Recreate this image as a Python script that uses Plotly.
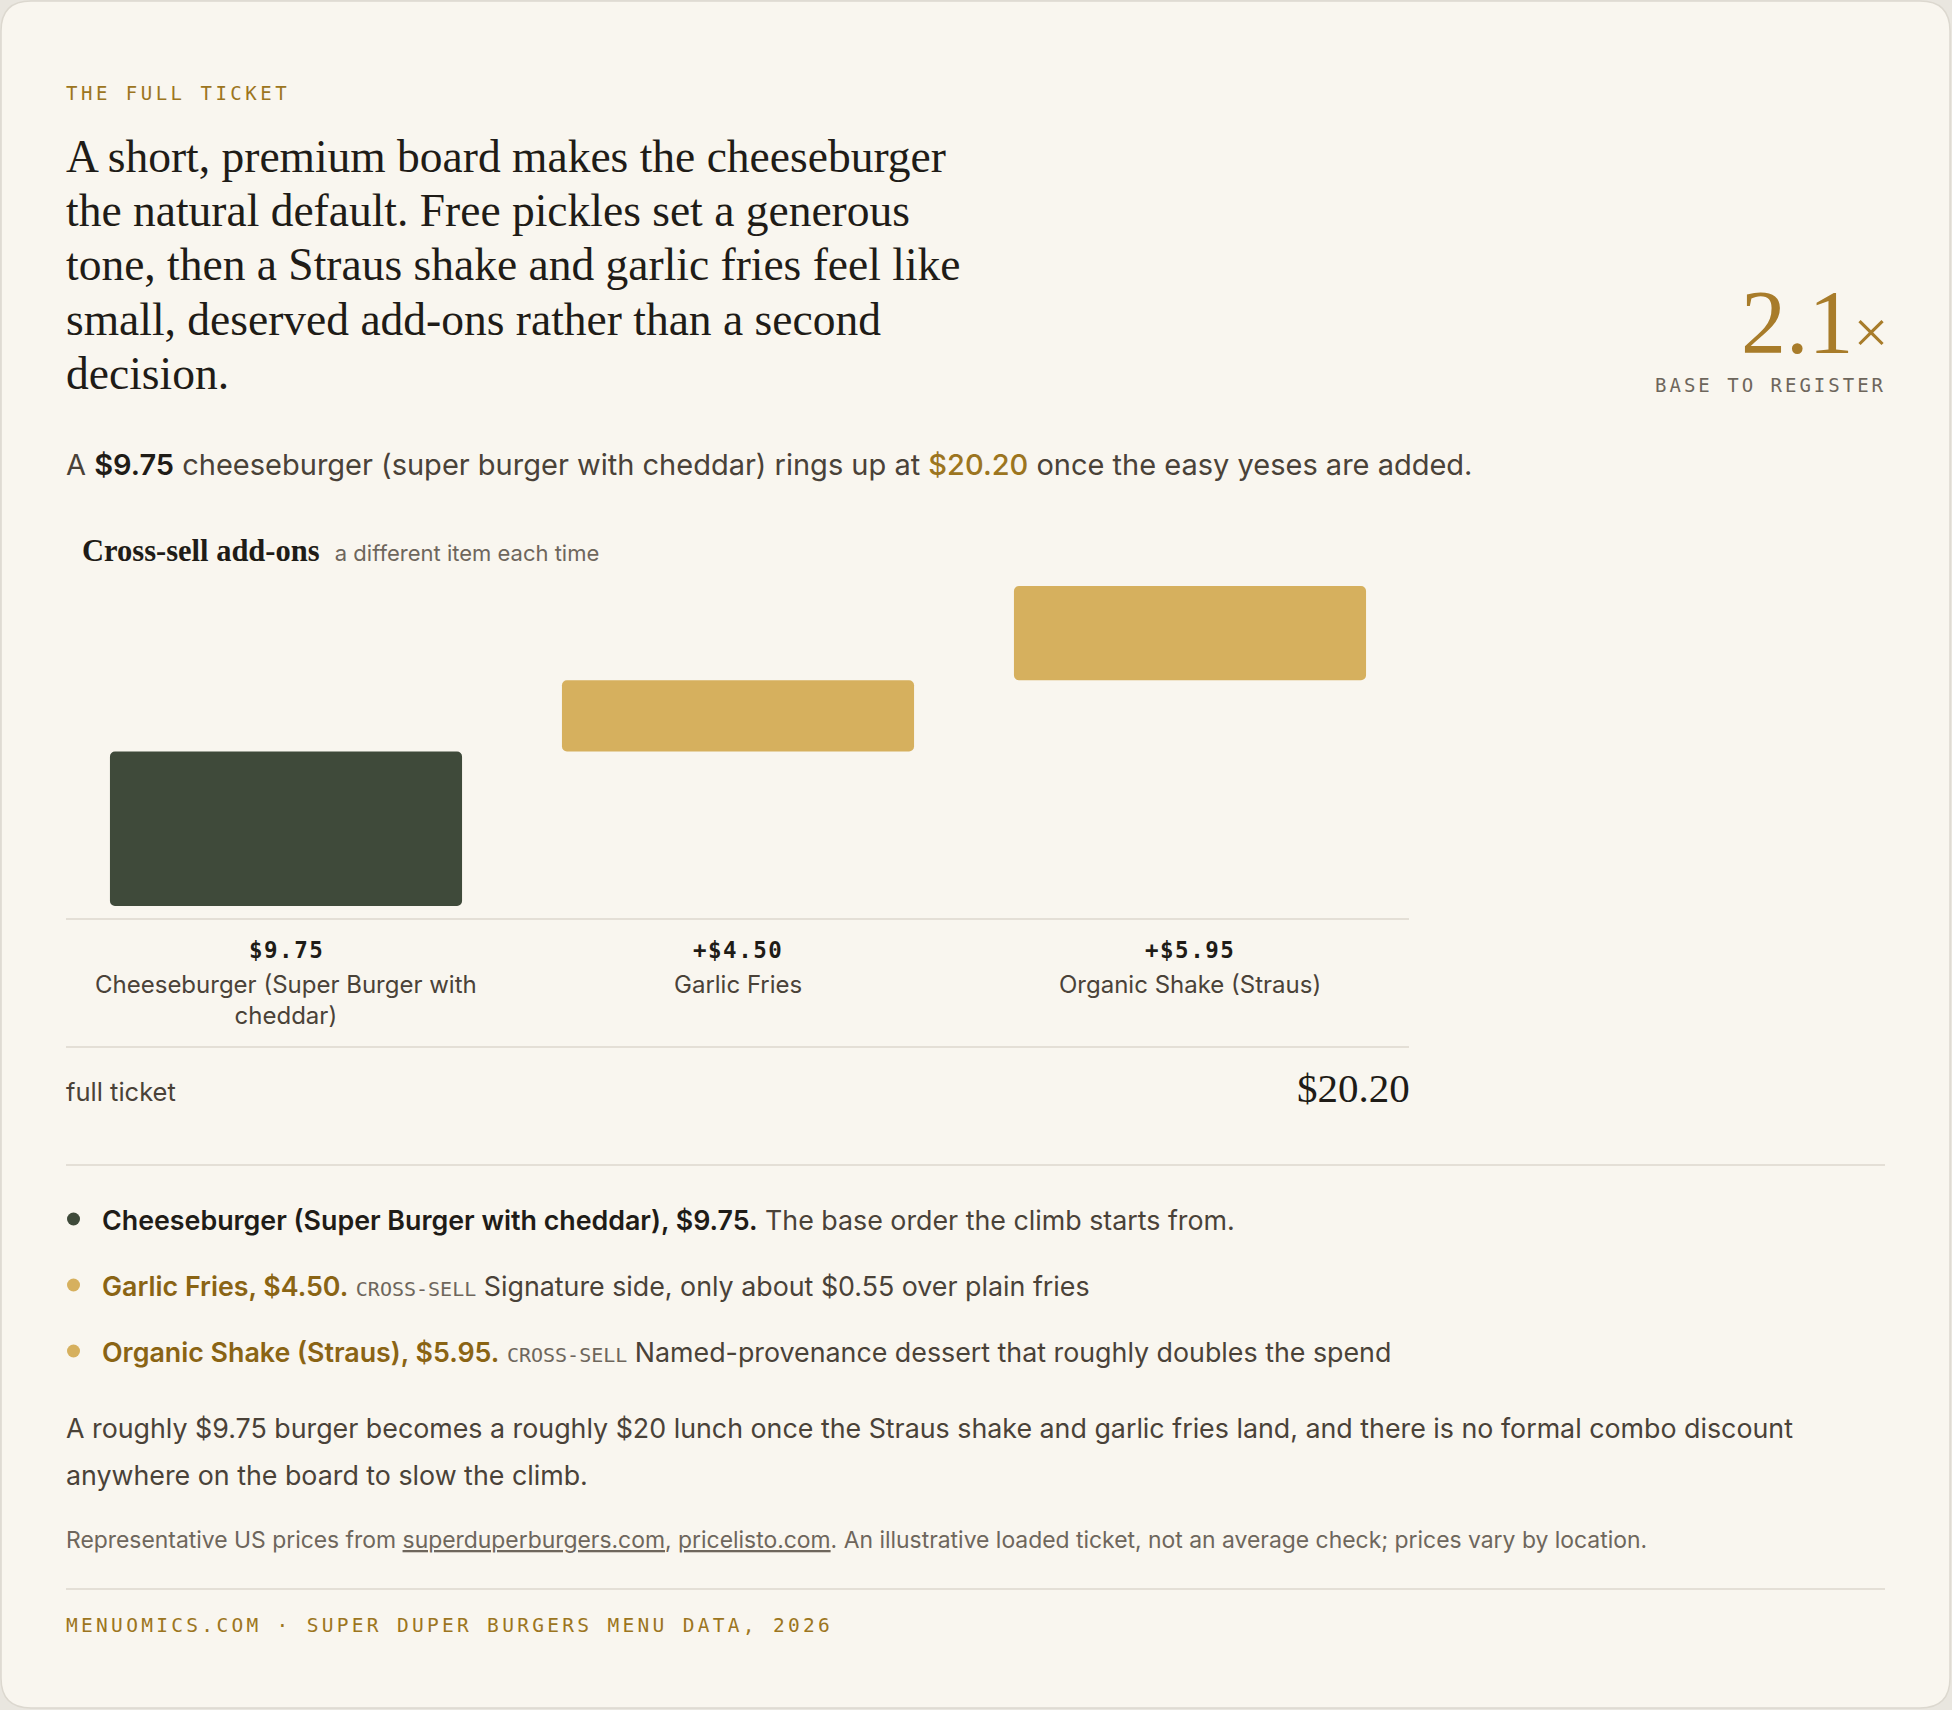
import numpy as np
import plotly.graph_objects as go

# canvas size (the page is photographed at this size)
W, H = 1952, 1710

# data
items = ["Cheeseburger (Super Burger with cheddar)", "Garlic Fries", "Organic Shake (Straus)"]
tick_names = ["Cheeseburger (Super Burger with<br>cheddar)", "Garlic Fries", "Organic Shake (Straus)"]
prices = [9.75, 4.50, 5.95]
roles = ["base", "cross-sell", "cross-sell"]
notes = ["The base order the climb starts from.",
         "Signature side, only about $0.55 over plain fries",
         "Named-provenance dessert that roughly doubles the spend"]
headline = ["A short, premium board makes the cheeseburger",
            "the natural default. Free pickles set a generous",
            "tone, then a Straus shake and garlic fries feel like",
            "small, deserved add-ons rather than a second",
            "decision."]

prices = np.array(prices)
bases = np.concatenate([[0], np.cumsum(prices)[:-1]])
total = prices.sum()
ratio = total / prices[0]

# colours / fonts
BG = "#f9f6ef"
OUTER = "#e9e6df"
INK = "#1f1c17"
BODY = "#4a4238"
GREY = "#6e665c"
GOLD = "#9c7520"
DARK = "#3f4a3a"
LIGHT = "#d6b05e"
RULE = "#e4dfd6"
SERIF = "Liberation Serif"
SANS = "Inter"
MONO = "DejaVu Sans Mono"
SEMI = "font-weight:600"


def X(p):
    return p / W


def Y(p):
    return 1 - p / H


fig = go.Figure()

fig.add_trace(go.Bar(
    x=items, y=prices, base=bases, width=0.779,
    marker=dict(color=[DARK if r == "base" else LIGHT for r in roles],
                line=dict(width=0), cornerradius=5),
    hoverinfo="skip", showlegend=False,
))

ann = []


def note(text, x, y, size, color=BODY, family=SANS, xanchor="left", yanchor="middle", xref="paper"):
    if xref == "paper":
        # small nudge to cancel annotation padding
        x = X(x - 2.5 if xanchor == "left" else x + 2.5 if xanchor == "right" else x)
    ann.append(dict(text=text, x=x, y=Y(y), xref=xref, yref="paper",
                    xanchor=xanchor, yanchor=yanchor, showarrow=False,
                    align="center" if xanchor == "center" else xanchor,
                    font=dict(size=size, color=color, family=family)))


def spaced(t, sp):
    return f'<span style="letter-spacing:{sp}px">{t}</span>'


# header
note(spaced("THE FULL TICKET", 3.5), 66, 93, 19, GOLD, MONO)
for i, line in enumerate(headline):
    note(line, 66, 156 + i * 54.5, 45.5, INK, SERIF)

note(f'{ratio:.1f}<span style="font-size:62px">×</span>', 1887, 322, 90, "#a87c2a", SERIF, xanchor="right")
note(spaced("BASE TO REGISTER", 3), 1885, 385, 19, GREY, MONO, xanchor="right")

note(f'A <span style="color:{INK};{SEMI}">${prices[0]:.2f}</span> cheeseburger (super burger with cheddar) '
     f'rings up at <span style="color:{GOLD};font-weight:500">${total:.2f}</span> once the easy yeses are added.',
     66, 464, 29, BODY, SANS)

note(f'<b>Cross-sell add-ons</b>  <span style="font-family:{SANS};font-size:22px;color:{GREY}">a different item each time</span>',
     82, 551, 30.5, INK, SERIF)

# tick labels under the bars
for i, it in enumerate(items):
    lab = f"${prices[i]:.2f}" if roles[i] == "base" else f"+${prices[i]:.2f}"
    note(f"<b>{spaced(lab, 1.5)}</b>", it, 950, 22.5, INK, MONO, xanchor="center", xref="x")
    note(tick_names[i], it, 968, 24, BODY, SANS, xanchor="center", yanchor="top", xref="x")

note("full ticket", 66, 1091, 25.5, BODY, SANS)
note(f"${total:.2f}", 1409, 1088, 41, INK, SERIF, xanchor="right")

# item list
for i, it in enumerate(items):
    head = f"{it}, ${prices[i]:.2f}."
    if roles[i] == "base":
        txt = f'<span style="color:{INK};{SEMI}">{head}</span> {notes[i]}'
    else:
        txt = (f'<span style="color:#8a6414;{SEMI}">{head}</span> '
               f'<span style="font-family:{MONO};font-size:20px;color:{GREY}">CROSS-SELL</span> {notes[i]}')
    note(txt, 102, 1220 + i * 66, 26.8, BODY, SANS)

note("A roughly $9.75 burger becomes a roughly $20 lunch once the Straus shake and garlic fries land, "
     "and there is no formal combo discount", 66, 1428, 26.8, BODY, SANS)
note("anywhere on the board to slow the climb.", 66, 1475, 26.8, BODY, SANS)

ul = "text-decoration:underline;text-decoration-color:#c4beb4"
note(f'Representative US prices from <span style="{ul}">superduperburgers.com</span>, '
     f'<span style="{ul}">pricelisto.com</span>. An illustrative loaded ticket, not an average check; '
     'prices vary by location.', 66, 1540, 22.9, GREY, SANS)

note(spaced("MENUOMICS.COM · SUPER DUPER BURGERS MENU DATA, 2026", 3.3), 66, 1625, 19.5, GOLD, MONO)

# card, rules, bullet dots
r = 30
x0, x1, y0, y1 = X(1), X(W - 2), Y(H - 2), Y(1)
rx, ry = r / W, r / H
card = (f"M {x0 + rx},{y0} L {x1 - rx},{y0} Q {x1},{y0} {x1},{y0 + ry} "
        f"L {x1},{y1 - ry} Q {x1},{y1} {x1 - rx},{y1} L {x0 + rx},{y1} Q {x0},{y1} {x0},{y1 - ry} "
        f"L {x0},{y0 + ry} Q {x0},{y0} {x0 + rx},{y0} Z")
shapes = [dict(type="path", path=card, xref="paper", yref="paper", fillcolor=BG,
               line=dict(color="#dcd8cf", width=1.5), layer="below")]
for yy, xe in [(919, 1409), (1047, 1409), (1165, 1885), (1589, 1885)]:
    shapes.append(dict(type="line", xref="paper", yref="paper", x0=X(66), x1=X(xe), y0=Y(yy), y1=Y(yy),
                       line=dict(color=RULE, width=2), layer="below"))
for i, rl in enumerate(roles):
    cy = 1219 + i * 66
    shapes.append(dict(type="circle", xref="paper", yref="paper", x0=X(67), x1=X(80), y0=Y(cy + 6.5), y1=Y(cy - 6.5),
                       fillcolor=DARK if rl == "base" else LIGHT, line=dict(width=0)))

fig.update_layout(
    width=W, height=H, margin=dict(l=0, r=0, t=0, b=0),
    paper_bgcolor=OUTER, plot_bgcolor="rgba(0,0,0,0)",
    xaxis=dict(domain=[X(60), X(1416)], range=[-0.5, 2.5], visible=False, fixedrange=True),
    yaxis=dict(domain=[Y(906), Y(906 - 22 * 15.84)], range=[0, 22], visible=False, fixedrange=True),
    annotations=ann, shapes=shapes, showlegend=False,
)

fig.write_html("out.html", config={"displayModeBar": False},
               post_script="document.body.style.margin='0';document.body.style.overflow='hidden';")
